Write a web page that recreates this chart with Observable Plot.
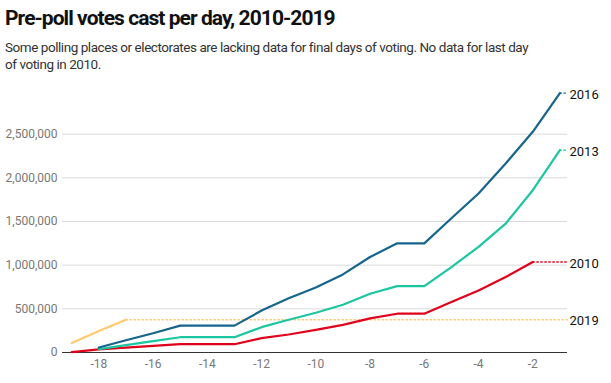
<!DOCTYPE html>
<html>
<head>
<meta charset="utf-8">
<script src="https://cdn.jsdelivr.net/npm/d3@7"></script>
<script src="https://cdn.jsdelivr.net/npm/@observablehq/plot@0.6"></script>
<style>
  html, body { margin: 0; padding: 0; background: #fff; }
  body { width: 611px; height: 383px; position: relative; overflow: hidden; font-family: Roboto, "Noto Sans", sans-serif; }
  #title { position: absolute; left: 5px; top: 6px; font-size: 21px; line-height: 24px; font-weight: 700; color: #111; white-space: nowrap; letter-spacing: -0.95px; }
  #subtitle { position: absolute; left: 5px; top: 39px; width: 535px; font-size: 13.5px; line-height: 17px; color: #333; letter-spacing: -0.45px; }
  #chart { position: absolute; left: 0; top: 80px; }
</style>
</head>
<body>
<div id="title">Pre-poll votes cast per day, 2010-2019</div>
<div id="subtitle">Some polling places or electorates are lacking data for final days of voting. No data for last day of voting in 2010.</div>
<div id="chart"></div>
<script>
// Days before polling day
const days = [-19, -18, -17, -16, -15, -14, -13, -12, -11, -10, -9, -8, -7, -6, -5, -4, -3, -2, -1];
// Cumulative pre-poll votes (millions), null = no data
const v2010 = [0.005, 0.035, 0.055, 0.075, 0.095, 0.095, 0.095, 0.165, 0.206, 0.26, 0.317, 0.39, 0.444, 0.444, 0.577, 0.711, 0.864, 1.036, null];
const v2013 = [null, 0.038, 0.085, 0.13, 0.175, 0.175, 0.175, 0.29, 0.375, 0.455, 0.547, 0.673, 0.76, 0.76, 0.978, 1.21, 1.475, 1.858, 2.317];
const v2016 = [null, 0.057, 0.14, 0.22, 0.308, 0.308, 0.308, 0.48, 0.62, 0.745, 0.894, 1.093, 1.25, 1.25, 1.537, 1.82, 2.164, 2.527, 2.97];
const v2019 = [0.11, 0.245, 0.375, null, null, null, null, null, null, null, null, null, null, null, null, null, null, null, null];

const seriesNames = ["2010", "2013", "2016", "2019"];
const seriesValues = [v2010, v2013, v2016, v2019];
const seriesColors = ["#e0001b", "#1cc6a0", "#15658c", "#ffca70"];

const yTicks = [0, 500000, 1000000, 1500000, 2000000, 2500000];
const xTicks = [-18, -16, -14, -12, -10, -8, -6, -4, -2];

const xMin = -19.34, xMax = -0.72;

const rows = [];
const tails = [];
const labels = [];
seriesNames.forEach((name, i) => {
  const vals = seriesValues[i];
  let last = null;
  days.forEach((d, j) => {
    if (vals[j] != null) {
      rows.push({series: name, day: d, votes: vals[j] * 1e6});
      last = {day: d, votes: vals[j] * 1e6};
    }
  });
  tails.push({series: name, day: last.day, votes: last.votes});
  tails.push({series: name, day: xMax, votes: last.votes});
  labels.push({series: name, day: xMax, votes: last.votes});
});

const color = {domain: seriesNames, range: seriesColors};

const chart = Plot.plot({
  width: 611,
  height: 303,
  marginLeft: 62,
  marginRight: 44,
  marginTop: 10,
  marginBottom: 31,
  style: {fontFamily: "Roboto, sans-serif", fontSize: "12px", background: "transparent"},
  x: {domain: [xMin, xMax], ticks: xTicks, tickSize: 0, tickPadding: 7, label: null, tickFormat: d => d < 0 ? "-" + Math.abs(d) : String(d)},
  y: {domain: [0, 3000000], ticks: yTicks, tickSize: 0, tickPadding: 5, label: null, tickFormat: d3.format(",")},
  color,
  marks: [
    Plot.ruleY(yTicks.filter(t => t > 0), {stroke: "#d9d9d9", strokeWidth: 1}),
    Plot.ruleY([0], {stroke: "#333", strokeWidth: 1.2}),
    Plot.line(tails, {x: "day", y: "votes", z: "series", stroke: "series", strokeWidth: 1.3, strokeDasharray: "1.5,2.5"}),
    Plot.line(rows, {x: "day", y: "votes", z: "series", stroke: "series", strokeWidth: 2.2}),
    Plot.text(labels, {x: "day", y: "votes", text: "series", textAnchor: "start", dx: 2, dy: 1.5, fill: "#111", fontSize: 13}),
  ]
});
chart.querySelectorAll('[aria-label="y-axis tick label"] text, [aria-label="x-axis tick label"] text').forEach(t => t.setAttribute("fill", "#777"));
document.getElementById("chart").appendChild(chart);
</script>
</body>
</html>
